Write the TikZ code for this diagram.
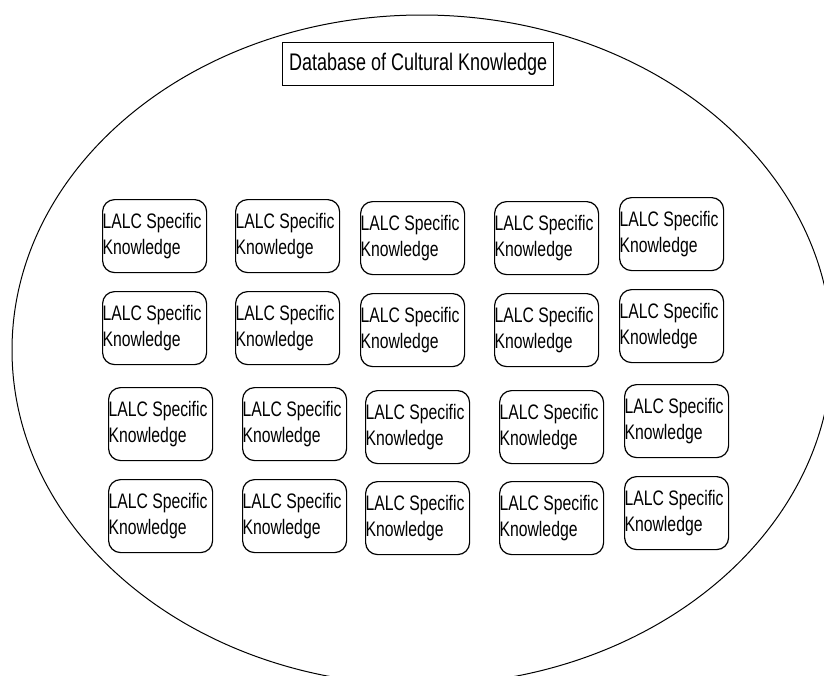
\documentclass[tikz,border=0pt]{standalone}
\usepackage{fontspec}
\setmainfont{Liberation Sans}[FakeStretch=0.75]
\usepackage{tikz}

\tikzset{
  lalcbox/.style={draw, rounded corners=12pt, line width=1.2pt, anchor=north west,
    inner xsep=0pt, inner ysep=0pt, text width=104pt, minimum height=73pt,
    align=flush left, font=\fontsize{21}{26}\selectfont},
  dbtitle/.style={draw, line width=1.2pt, anchor=north west, inner sep=0pt,
    minimum width=271pt, minimum height=43pt, font=\fontsize{24}{26}\selectfont}
}

\begin{document}
\begin{tikzpicture}[x=1pt,y=-1pt]
	\useasboundingbox (0,0) rectangle (824,675);

	\draw[line width=1pt] (422,350) ellipse [x radius=410, y radius=335];

	\node[dbtitle] (db) at (282,42) {Database of Cultural Knowledge};

	% first row
	\node[lalcbox] (k11) at (102,199) {LALC Specific\\Knowledge};
	\node[lalcbox] (k12) at (235,199) {LALC Specific\\Knowledge};
	\node[lalcbox] (k13) at (360,201) {LALC Specific\\Knowledge};
	\node[lalcbox] (k14) at (494,201) {LALC Specific\\Knowledge};
	\node[lalcbox] (k15) at (619,197) {LALC Specific\\Knowledge};

	% second row
	\node[lalcbox] (k21) at (102,291) {LALC Specific\\Knowledge};
	\node[lalcbox] (k22) at (235,291) {LALC Specific\\Knowledge};
	\node[lalcbox] (k23) at (360,293) {LALC Specific\\Knowledge};
	\node[lalcbox] (k24) at (494,293) {LALC Specific\\Knowledge};
	\node[lalcbox] (k25) at (619,289) {LALC Specific\\Knowledge};

	% third row
	\node[lalcbox] (k31) at (108,387) {LALC Specific\\Knowledge};
	\node[lalcbox] (k32) at (242,387) {LALC Specific\\Knowledge};
	\node[lalcbox] (k33) at (365,390) {LALC Specific\\Knowledge};
	\node[lalcbox] (k34) at (499,390) {LALC Specific\\Knowledge};
	\node[lalcbox] (k35) at (624,384) {LALC Specific\\Knowledge};

	% fourth row
	\node[lalcbox] (k41) at (108,479) {LALC Specific\\Knowledge};
	\node[lalcbox] (k42) at (242,479) {LALC Specific\\Knowledge};
	\node[lalcbox] (k43) at (365,481) {LALC Specific\\Knowledge};
	\node[lalcbox] (k44) at (499,481) {LALC Specific\\Knowledge};
	\node[lalcbox] (k45) at (624,476) {LALC Specific\\Knowledge};
\end{tikzpicture}
\end{document}
